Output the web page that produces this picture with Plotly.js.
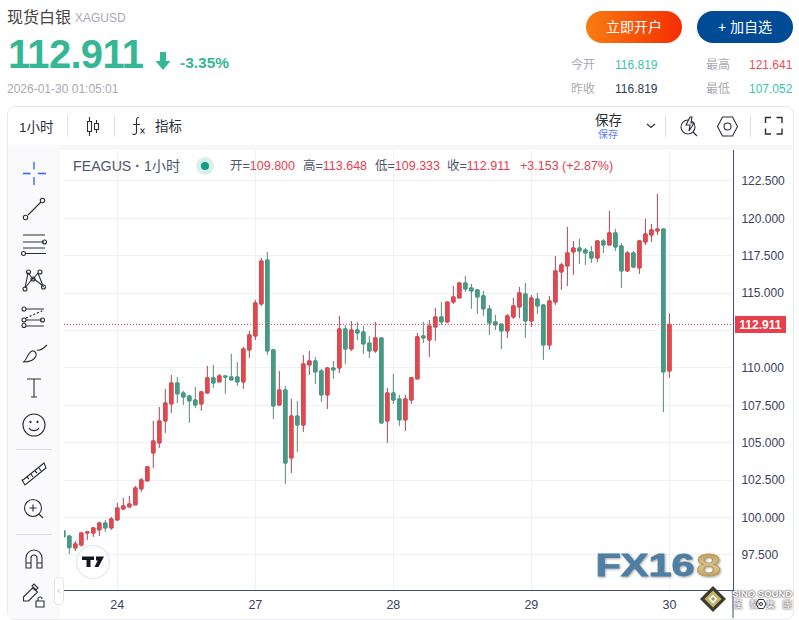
<!DOCTYPE html>
<html><head><meta charset="utf-8">
<script src="https://cdn.plot.ly/plotly-3.0.1.min.js"></script>
<style>
html,body{margin:0;padding:0;background:#fff;width:799px;height:620px;overflow:hidden}
body{font-family:"Liberation Sans","Noto Sans CJK SC",sans-serif;position:relative}
#chart{position:absolute;left:0;top:0;width:799px;height:620px}
.t{position:absolute;white-space:nowrap;line-height:1;z-index:5}
.b{position:absolute;z-index:3}
svg.i{position:absolute;z-index:5;overflow:visible;fill:none;stroke:#2a2e39;stroke-width:1.1}
.r{color:#e5404c}.k{color:#50556b}
</style></head><body>
<div class="b" id="cardTop" style="left:7px;top:106px;width:785px;height:512px;border:1px solid #e8e9ee;border-radius:8px;"></div>
<div class="b" style="left:8px;top:145px;width:784px;height:5px;background:#f7f7f9"></div>
<div class="b" style="left:8px;top:145px;width:52px;height:473px;background:#fafafc"></div>
<div id="chart"></div>

<div class="t" style="left:7px;top:10px;font-size:16px;color:#444">现货白银</div>
<div class="t" style="left:75px;top:12px;font-size:12px;color:#a9a9b4">XAGUSD</div>
<div class="t" style="left:8px;top:34px;font-size:40px;font-weight:bold;color:#35b795;letter-spacing:-.7px">112.911</div>
<svg class="i" style="left:155px;top:52px;stroke:none;fill:#35b795" width="16" height="18" viewBox="0 0 16 18"><path d="M5 0h6v9h4.500L8 18 .5 9H5z"/></svg>
<div class="t" style="left:180px;top:55px;font-size:15.500px;font-weight:bold;color:#35b795">-3.35%</div>
<div class="t" style="left:7px;top:83px;font-size:12px;color:#a9a9b4">2026-01-30 01:05:01</div>

<div class="t" style="left:586px;top:11px;width:96px;height:32px;border-radius:16px;background:linear-gradient(90deg,#f97d10,#f52d03);color:#fff;font-size:14px;text-align:center;line-height:32px">立即开户</div>
<div class="t" style="left:697px;top:11px;width:96px;height:32px;border-radius:16px;background:#004b96;color:#fff;font-size:14px;text-align:center;line-height:32px">+ 加自选</div>
<div class="t" style="left:571px;top:59px;font-size:12px;color:#a9a9b4">今开</div>
<div class="t" style="left:615px;top:59px;font-size:12px;color:#3cc3ad">116.819</div>
<div class="t" style="left:706px;top:59px;font-size:12px;color:#a9a9b4">最高</div>
<div class="t" style="left:749px;top:59px;font-size:12px;color:#e8505b">121.641</div>
<div class="t" style="left:571px;top:83px;font-size:12px;color:#a9a9b4">昨收</div>
<div class="t" style="left:615px;top:83px;font-size:12px;color:#2a3a55">116.819</div>
<div class="t" style="left:706px;top:83px;font-size:12px;color:#a9a9b4">最低</div>
<div class="t" style="left:749px;top:83px;font-size:12px;color:#3cc3ad">107.052</div>

<div class="t" style="left:19px;top:121px;font-size:13.500px;color:#2a2e39">1小时</div>
<div class="b" style="left:67px;top:115px;width:1px;height:22px;background:#e0e1e8;z-index:5"></div>
<svg class="i" style="left:85px;top:116px" width="15" height="20"><path d="M2.500 5.500h4v10h-4zM4.500 1v4.500M4.500 15.500V20M9.500 7.500h4v6h-4zM11.500 4v3.500M11.500 13.500V17"/></svg>
<div class="b" style="left:114px;top:115px;width:1px;height:22px;background:#e0e1e8;z-index:5"></div>
<svg class="i" style="left:131px;top:116px" width="16" height="20"><path d="M8 1.500C5 1 5.500 4 5.500 8V16C5.500 18.500 3.500 19 1.500 18M2 8.500h7M9.500 12.500l4 5M13.500 12.500l-4 5"/></svg>
<div class="t" style="left:155px;top:120px;font-size:13.500px;color:#2a2e39">指标</div>
<div class="t" style="left:595px;top:114px;font-size:13.500px;color:#2a2e39">保存</div>
<div class="t" style="left:598px;top:130px;font-size:10px;color:#5a7dfb">保存</div>
<svg class="i" style="left:646px;top:123px" width="10" height="6"><path d="M1 1l4 3.500L9 1"/></svg>
<div class="b" style="left:665px;top:115px;width:1px;height:22px;background:#e0e1e8;z-index:5"></div>
<svg class="i" style="left:680px;top:116px" width="18" height="20"><circle cx="8" cy="11" r="7"/><path d="M13 16l4 4M10 1L6 9h4l-1 6 5-8h-3l1-6z" style="fill:#fff"/></svg>
<svg class="i" style="left:717px;top:116px" width="21" height="20"><path d="M5.500 1h10l5 9.500-5 9.500h-10l-5-9.500z"/><circle cx="10.500" cy="10.500" r="3.500"/></svg>
<div class="b" style="left:750px;top:115px;width:1px;height:22px;background:#e0e1e8;z-index:5"></div>
<svg class="i" style="left:765px;top:117px" width="18" height="18"><path d="M.5 6V.5H6M11.500.5H17V6M17 11.500V17H11.500M6 17H.5V11.500" style="stroke-width:1.400"/></svg>

<div class="t k" style="left:73px;top:159px;font-size:14.200px">FEAGUS<span style="font-weight:bold"> · </span>1小时</div>
<svg class="i" style="left:196px;top:157px;stroke:none" width="18" height="18"><circle cx="9" cy="9" r="9" fill="#d9f0ea"/><circle cx="9" cy="9" r="4" fill="#0f9d7e"/></svg>
<div class="t k" style="left:230px;top:160px;font-size:12.500px">开=<span class="r">109.800</span></div>
<div class="t k" style="left:303px;top:160px;font-size:12.500px">高=<span class="r">113.648</span></div>
<div class="t k" style="left:375px;top:160px;font-size:12.500px">低=<span class="r">109.333</span></div>
<div class="t k" style="left:447px;top:160px;font-size:12.500px">收=<span class="r">112.911</span></div>
<div class="t r" style="left:520px;top:160px;font-size:12.500px">+3.153 (+2.87%)</div>

<svg class="i" style="left:0;top:150px;z-index:6" width="64" height="470" viewBox="0 0 64 470">
 <path d="M34 12v7.500M34 27v8M23 23.500h7.500M38 23.500h8" style="stroke:#2962ff;stroke-width:1.300"/>
 <g>
  <path d="M28 65L41 52"/><circle cx="25.500" cy="67.500" r="2.200"/><circle cx="42.500" cy="50.500" r="2.200"/>
  <path d="M23 85h22M23 92h21M23 98h22M26 103.500h20"/><circle cx="44.500" cy="92" r="2"/><circle cx="23.500" cy="103.500" r="2"/>
  <path d="M25 138l3-15 5 6 5-6 5 13-10-8-8 10z"/><circle cx="25" cy="139" r="2"/><circle cx="28.500" cy="122" r="2"/><circle cx="33" cy="129" r="2"/><circle cx="40" cy="122" r="2"/><circle cx="43.500" cy="137" r="2"/>
  <path d="M26 159h18M26 170h16M26 176h18"/><path d="M26 168l18-8" style="stroke-dasharray:2 2"/><circle cx="24" cy="159" r="2"/><circle cx="24" cy="170" r="2"/><circle cx="42.500" cy="170" r="2"/><circle cx="24" cy="175.500" r="2"/>
  <path d="M23 212c4-1 4-9 9-11 3-1 5 3 4 5-2 5-8 6-13 6zM37 200c3 1 6-1 10-5"/>
  <path d="M27 229h14M34 229v18M31 247h6"/>
  <circle cx="34" cy="275" r="11"/><circle cx="30.500" cy="272" r=".6"/><circle cx="37.500" cy="272" r=".6"/><path d="M29 278c2 3.500 8 3.500 10 0"/>
  <path d="M16 299.500h36" style="stroke:#dcdde6"/>
  <path d="M23 330l21-17 2 5-21 17-3-5z M27 327l2 2M31 324l2 3M35 321l2 2M39 318l2 3"/>
  <circle cx="33" cy="358" r="8.500"/><path d="M29.500 358h7M33 354.500v7M39 364l4 4"/>
  <path d="M16 384.500h36" style="stroke:#dcdde6"/>
  <path d="M26 418v-10a8 8 0 0 1 16 0v10h-5v-10a3 3 0 0 0-6 0v10zM26 413h5M37 413h5"/>
  <path d="M23.500 447l9-9 5 4-9 9h-5zM36 440l-4-4 2-2 4 4z"/><path d="M36 451h8v6h-8zM38 451v-2a2 2 0 0 1 4 0"/>
 </g>
</svg>
<div class="b" style="left:54px;top:577px;width:8px;height:26px;border:1px solid #e4e5ec;border-radius:4px;background:#fff;z-index:6;color:#bbb;font-size:10px;line-height:26px;text-align:center">‹</div>

<svg class="i" style="left:76px;top:545px;z-index:6;stroke:none" width="34" height="34"><circle cx="17" cy="17" r="16.500" fill="#fff" stroke="#e2e4ee"/><path fill="#131722" d="M6 11.500h12v3.500h-3.500v7h-4v-7H6zM20 11.500h8l-5.500 10.500h-4l3.200-6.500H20z"/></svg>

<svg class="i" style="left:590px;top:545px;z-index:4;stroke:none;filter:drop-shadow(1px 1px 1px rgba(60,60,60,.45))" width="140" height="36">
 <defs><linearGradient id="gold" x1="0" y1="0" x2="0" y2="1"><stop offset="0" stop-color="#b08a4a"/><stop offset=".55" stop-color="#dcc58a"/><stop offset="1" stop-color="#a8854a"/></linearGradient></defs>
 <text x="5.500" y="30.500" font-family="Liberation Sans" font-weight="bold" font-size="32" fill="#4f7fa3" stroke="#4f7fa3" stroke-width=".8" textLength="99" lengthAdjust="spacingAndGlyphs">FX16</text>
 <text x="106" y="30.500" font-family="Liberation Sans" font-weight="bold" font-size="32" fill="url(#gold)" stroke="#b99a5c" stroke-width=".8" textLength="25" lengthAdjust="spacingAndGlyphs">8</text>
</svg>
<svg class="i" style="left:700px;top:586px;z-index:7;stroke:none" width="26" height="26"><path d="M13 0l13 13-13 13L0 13z" fill="#3c3a30"/><path d="M13 4.500l8.500 8.500-8.500 8.500L4.500 13z" fill="#c9b26a"/><path d="M13 8.500l4.500 4.500-4.500 4.500L8.500 13z" fill="#f3f3ea"/><path d="M13 11l2 2-2 2-2-2z" fill="#8aa05a"/></svg>
<div class="t" style="left:732px;top:589px;font-size:9.500px;font-weight:bold;color:#fff;text-shadow:0 0 2px #555,0 0 2px #555;z-index:7">SINO SOUND</div>
<div class="t" style="left:733px;top:600px;font-size:9.500px;letter-spacing:7px;color:#fff;text-shadow:0 0 2px #555,0 0 2px #555;z-index:7">漢聲集團</div>
<svg class="i" style="left:756px;top:599px;z-index:8;stroke-width:1" width="10" height="10"><path d="M2.500.5h5l2.500 4.500-2.500 4.500h-5L0 5z"/><circle cx="5" cy="5" r="1.500"/></svg>

<script>
// candle values, one entry per hour, oldest first
var openPrices = [99.11,98.77,97.97,98.17,98.97,98.97,99.18,99.64,99.31,99.84,100.58,100.71,100.85,101.92,102.45,104.32,104.99,106.46,107.60,109.00,108.33,108.13,107.86,107.60,108.33,109.34,109.07,109.47,109.40,109.40,109.07,111.21,112.14,114.28,117.22,111.21,107.53,108.53,103.99,106.79,106.19,110.20,110.47,109.80,108.20,110.00,110.00,112.61,111.27,112.54,112.41,111.67,111.14,112.01,106.46,108.33,107.93,106.53,107.86,109.27,112.14,111.87,112.74,113.41,113.08,114.41,114.68,115.68,115.35,115.22,114.82,113.95,113.08,112.94,112.48,113.41,114.08,114.95,113.14,114.61,114.21,111.54,114.41,116.42,116.82,117.76,118.02,117.89,117.76,117.35,118.49,118.22,119.03,118.16,116.49,117.69,116.69,118.42,118.89,119.16,119.29,109.80];
var highPrices = [99.18,98.82,98.44,99.04,99.04,99.38,99.73,99.84,100.04,100.98,101.31,101.45,102.12,102.65,103.45,106.46,107.40,108.60,109.53,109.40,108.47,108.20,108.73,108.47,110.14,110.20,109.60,109.47,110.94,110.40,111.41,112.48,114.55,117.35,117.76,111.27,109.80,108.80,107.93,107.80,110.87,111.14,110.74,109.94,110.07,110.47,113.48,112.88,113.14,113.08,112.81,112.14,113.08,112.01,108.67,109.60,108.20,108.20,109.40,112.34,113.08,113.21,114.01,114.41,114.41,115.48,115.75,116.15,115.62,115.22,115.15,114.21,113.55,112.94,113.61,114.68,115.42,115.68,114.88,115.02,114.28,114.82,117.49,117.02,119.43,118.49,118.63,118.02,118.16,118.56,118.63,120.50,119.29,118.36,117.82,117.82,118.56,119.96,119.63,121.64,119.29,113.648];
var lowPrices = [98.51,97.57,97.77,98.06,98.51,98.71,98.77,99.04,99.18,99.84,100.51,100.71,100.85,101.72,102.45,103.32,104.66,105.66,107.00,107.66,107.53,106.33,107.33,107.13,108.27,108.67,109.07,108.27,109.20,108.80,108.60,110.67,111.87,114.15,110.87,106.59,107.46,102.25,102.98,104.39,105.73,109.53,108.93,107.73,107.26,109.27,109.67,110.27,111.14,111.87,110.94,110.67,111.01,106.26,104.99,107.60,106.13,105.79,107.60,109.27,111.67,110.74,111.81,112.88,113.01,114.28,114.68,115.08,113.95,113.61,113.48,112.21,112.54,111.27,112.01,113.28,113.34,112.01,112.74,113.61,110.54,111.21,114.21,115.22,115.48,116.22,116.95,116.89,117.02,117.09,117.69,118.22,117.82,115.35,116.42,116.69,116.29,118.22,118.42,118.89,107.05,109.333];
var closePrices = [98.71,97.99,98.24,98.97,99.04,99.31,99.64,99.31,99.91,100.64,100.78,100.91,101.98,102.52,103.39,105.12,106.46,107.66,109.00,108.27,108.06,107.80,107.53,108.40,109.34,109.00,109.47,109.40,109.20,109.07,111.27,112.21,114.35,117.15,111.14,107.46,108.53,103.65,106.79,106.19,110.27,110.47,109.74,108.20,110.00,109.87,112.61,111.27,112.54,112.34,111.61,111.14,112.01,106.33,108.33,107.86,106.53,107.93,109.34,112.08,112.01,112.81,113.41,113.08,114.41,114.75,115.68,115.28,115.15,114.75,113.95,113.01,112.88,112.48,113.48,114.15,115.02,113.14,114.68,114.15,111.54,114.48,116.49,116.89,117.69,118.02,117.82,117.69,117.35,118.49,118.22,119.03,118.09,116.49,117.69,116.75,118.49,118.96,119.23,119.29,109.74,112.911];
var firstIndex = -9;
var dayTickIndex = [0,23,46,69,92];
var dayTickLabels = ['24','27','28','29','30'];
var priceTicks = [97.5,100,102.5,105,107.5,110,112.5,115,117.5,120,122.5];
var priceTickLabels = ['97.500','100.000','102.500','105.000','107.500','110.000','','115.000','117.500','120.000','122.500'];
var lastPrice = 112.911;

var hours = openPrices.map(function(_, i){ return firstIndex + i; });
var UP='#e2484e', DOWN='#479a86', UPW='#a2485a', DOWNW='#5a8c6e';
var traces = [
 {type:'candlestick', x:hours, open:openPrices, high:highPrices, low:lowPrices, close:closePrices, whiskerwidth:0,
  increasing:{line:{color:UPW,width:1},fillcolor:UP}, decreasing:{line:{color:DOWNW,width:1},fillcolor:DOWN}, hoverinfo:'skip', showlegend:false},
 {type:'candlestick', x:hours, open:openPrices, high:openPrices.map(function(o,i){return closePrices[i]>=o?closePrices[i]:o;}), low:openPrices.map(function(o,i){return closePrices[i]>=o?o:closePrices[i];}), close:closePrices, whiskerwidth:0,
  increasing:{line:{color:UP,width:1},fillcolor:UP}, decreasing:{line:{color:DOWN,width:1},fillcolor:DOWN}, hoverinfo:'skip', showlegend:false}
];
var layout = {
 width:799, height:620, paper_bgcolor:'rgba(0,0,0,0)', plot_bgcolor:'#fff', showlegend:false, boxmode:'overlay', boxgap:0.2,
 margin:{l:64,r:66,t:150,b:30,pad:0},
 font:{family:'"Liberation Sans", sans-serif', color:'#3a4160', size:12},
 xaxis:{type:'linear', range:[-8.883,102.6], tickmode:'array', tickvals:dayTickIndex, ticktext:dayTickLabels, showgrid:true, gridcolor:'#f1f1f5', gridwidth:1, zeroline:false,
  showline:true, linecolor:'#46507a', linewidth:1, ticks:'', rangeslider:{visible:false}, tickfont:{size:12.5,color:'#3a4160'}, ticklabelstandoff:3, fixedrange:true},
 yaxis:{side:'right', range:[95.16,124.57], tickmode:'array', tickvals:priceTicks, ticktext:priceTickLabels, showgrid:true, gridcolor:'#f1f1f5', gridwidth:1, zeroline:false,
  showline:true, linecolor:'#46507a', linewidth:1, ticks:'', tickfont:{size:12,color:'#3a4160'}, ticklabelstandoff:5, fixedrange:true},
 shapes:[
  {type:'line', xref:'paper', yref:'y', x0:0, x1:1, y0:lastPrice, y1:lastPrice, line:{color:'#e83a48',width:1,dash:'1px,2px'}},
  {type:'line', xref:'paper', yref:'paper', x0:1, x1:1, y0:-0.064, y1:0, line:{color:'#46507a',width:1}}
 ],
 annotations:[{xref:'paper', yref:'y', x:1, y:lastPrice, xanchor:'left', yanchor:'middle', xshift:2, showarrow:false, text:'<b>'+lastPrice.toFixed(3)+'</b>', font:{size:12,color:'#fff'}, bgcolor:'#e5404c', width:51, height:17, borderpad:0, borderwidth:0}]
};
Plotly.newPlot('chart', traces, layout, {displayModeBar:false, staticPlot:true});
</script>
</body></html>
